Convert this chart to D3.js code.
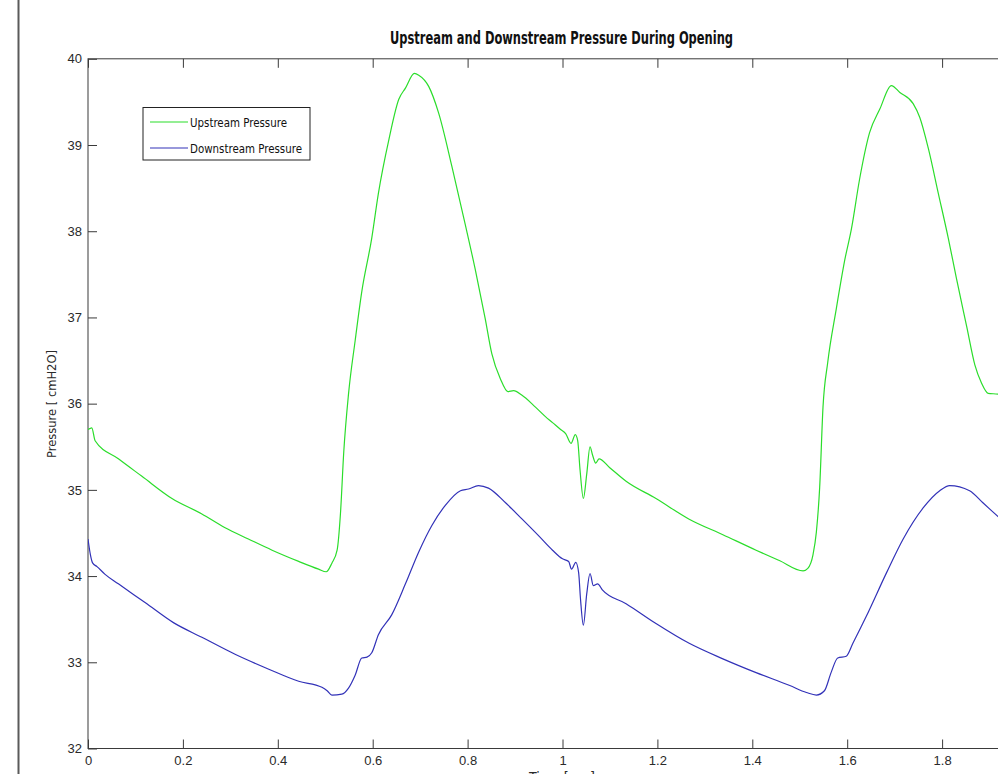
<!DOCTYPE html>
<html>
<head>
<meta charset="utf-8">
<script src="https://cdn.jsdelivr.net/npm/d3@7"></script>
<style>
  html, body { margin: 0; padding: 0; background: #fff; overflow: hidden; }
  svg { display: block; }
</style>
</head>
<body>
<svg id="chart" width="998" height="774"></svg>
<script>
// ---- Data ----
const titleText = "Upstream and Downstream Pressure During Opening";
const xLabelText = "Time [sec]";
const yLabelText = "Pressure [ cmH2O]";
const seriesNames = ["Upstream Pressure", "Downstream Pressure"];
const seriesColors = ["#2bdd2b", "#3232b8"];

const xTickValues = [0, 0.2, 0.4, 0.6, 0.8, 1, 1.2, 1.4, 1.6, 1.8];
const xTickLabels = ["0", "0.2", "0.4", "0.6", "0.8", "1", "1.2", "1.4", "1.6", "1.8"];
const yTickValues = [32, 33, 34, 35, 36, 37, 38, 39, 40];
const yTickLabels = ["32", "33", "34", "35", "36", "37", "38", "39", "40"];

const upstreamTime = [0, 0.008, 0.015, 0.064, 0.113, 0.177, 0.240, 0.289, 0.338, 0.388, 0.444, 0.486, 0.502, 0.514, 0.525, 0.532, 0.539, 0.549, 0.563, 0.577, 0.598, 0.612, 0.634, 0.655, 0.669, 0.688, 0.697, 0.718, 0.739, 0.767, 0.795, 0.816, 0.837, 0.851, 0.869, 0.885, 0.897, 0.914, 0.943, 0.964, 0.979, 0.996, 1.007, 1.018, 1.027, 1.032, 1.037, 1.044, 1.051, 1.058, 1.063, 1.070, 1.077, 1.099, 1.134, 1.197, 1.267, 1.338, 1.408, 1.457, 1.507, 1.517, 1.528, 1.535, 1.542, 1.549, 1.559, 1.577, 1.595, 1.609, 1.626, 1.647, 1.669, 1.693, 1.711, 1.739, 1.753, 1.771, 1.792, 1.813, 1.830, 1.852, 1.869, 1.883, 1.897, 1.918, 1.960, 2.0];
const upstreamPressure = [35.70, 35.72, 35.57, 35.36, 35.16, 34.90, 34.72, 34.56, 34.43, 34.30, 34.17, 34.08, 34.05, 34.15, 34.30, 34.72, 35.44, 36.11, 36.73, 37.30, 37.92, 38.44, 39.06, 39.53, 39.66, 39.83, 39.81, 39.68, 39.37, 38.75, 38.08, 37.56, 36.99, 36.58, 36.29, 36.14, 36.15, 36.10, 35.96, 35.85, 35.78, 35.70, 35.65, 35.54, 35.64, 35.57, 35.23, 34.90, 35.18, 35.50, 35.41, 35.31, 35.36, 35.26, 35.10, 34.90, 34.66, 34.48, 34.30, 34.18, 34.06, 34.09, 34.25, 34.51, 35.03, 35.96, 36.48, 37.10, 37.67, 38.03, 38.60, 39.14, 39.42, 39.69, 39.61, 39.48, 39.32, 38.96, 38.44, 37.92, 37.46, 36.89, 36.45, 36.24, 36.12, 36.11, 35.98, 35.85];

const downstreamTime = [0, 0.005, 0.010, 0.019, 0.036, 0.064, 0.121, 0.180, 0.240, 0.311, 0.381, 0.444, 0.493, 0.504, 0.514, 0.535, 0.549, 0.563, 0.577, 0.588, 0.598, 0.612, 0.640, 0.669, 0.697, 0.725, 0.753, 0.785, 0.802, 0.823, 0.844, 0.880, 0.915, 0.951, 0.979, 1.000, 1.013, 1.019, 1.028, 1.034, 1.038, 1.044, 1.051, 1.058, 1.065, 1.074, 1.084, 1.134, 1.197, 1.267, 1.338, 1.408, 1.479, 1.514, 1.535, 1.552, 1.566, 1.580, 1.598, 1.612, 1.640, 1.683, 1.718, 1.760, 1.795, 1.816, 1.858, 1.886, 1.918, 1.960, 2.0];
const downstreamPressure = [34.43, 34.25, 34.15, 34.11, 34.02, 33.91, 33.69, 33.46, 33.29, 33.09, 32.92, 32.78, 32.71, 32.67, 32.62, 32.63, 32.70, 32.85, 33.05, 33.06, 33.11, 33.32, 33.55, 33.91, 34.28, 34.59, 34.82, 34.99, 35.01, 35.05, 35.02, 34.85, 34.66, 34.46, 34.30, 34.20, 34.17, 34.08, 34.16, 34.04, 33.73, 33.43, 33.79, 34.03, 33.89, 33.91, 33.84, 33.68, 33.45, 33.22, 33.04, 32.88, 32.73, 32.65, 32.62, 32.67, 32.88, 33.05, 33.07, 33.22, 33.53, 34.04, 34.43, 34.79, 34.99, 35.05, 34.99, 34.85, 34.69, 34.48, 34.28];

// ---- Layout ----
const plotLeft = 88, plotRight = 1037, plotTop = 58.8, plotBottom = 748.5;
const condensed = "'DejaVu Sans Condensed', 'Liberation Sans Narrow', 'DejaVu Sans', sans-serif";
const tickFont = "'Liberation Sans', Arial, sans-serif";

const svg = d3.select("#chart");
svg.append("rect").attr("width", 998).attr("height", 774).attr("fill", "#fff");

// figure window edge on the left
svg.append("line").attr("x1", 18.5).attr("x2", 18.5).attr("y1", 0).attr("y2", 774)
  .attr("stroke", "#5a5a5a").attr("stroke-width", 2);

const x = d3.scaleLinear().domain([0, 2]).range([plotLeft, plotRight]);
const y = d3.scaleLinear().domain([32, 40]).range([plotBottom, plotTop]);

const tickLen = 9;
const axisColor = "#3a3a3a";

function styleAxis(g) {
  g.select(".domain").remove();
  g.selectAll(".tick line").attr("stroke", axisColor).attr("stroke-width", 1);
  g.selectAll(".tick text").attr("fill", "#2a2a2a")
    .style("font-family", tickFont).style("font-size", "13px");
}

// bottom axis (ticks inward)
const gx = svg.append("g").attr("transform", `translate(0,${plotBottom})`)
  .call(d3.axisBottom(x).tickValues(xTickValues)
    .tickFormat((d, i) => xTickLabels[i]).tickSizeInner(-tickLen).tickSizeOuter(0).tickPadding(5));
styleAxis(gx);
gx.selectAll(".tick text").attr("dy", "0.85em").attr("y", 5);

// top axis mirror ticks, no labels
const gxt = svg.append("g").attr("transform", `translate(0,${plotTop})`)
  .call(d3.axisTop(x).tickValues(xTickValues).tickFormat("").tickSizeInner(-tickLen).tickSizeOuter(0));
styleAxis(gxt);

// left axis
const gy = svg.append("g").attr("transform", `translate(${plotLeft},0)`)
  .call(d3.axisLeft(y).tickValues(yTickValues)
    .tickFormat((d, i) => yTickLabels[i]).tickSizeInner(-tickLen).tickSizeOuter(0).tickPadding(6));
styleAxis(gy);

// axes box
svg.append("rect").attr("x", plotLeft).attr("y", plotTop)
  .attr("width", plotRight - plotLeft).attr("height", plotBottom - plotTop)
  .attr("fill", "none").attr("stroke", axisColor).attr("stroke-width", 1);

// clip
svg.append("clipPath").attr("id", "plotclip").append("rect")
  .attr("x", plotLeft).attr("y", plotTop).attr("width", plotRight - plotLeft).attr("height", plotBottom - plotTop);

const line = d3.line().x(d => x(d[0])).y(d => y(d[1])).curve(d3.curveMonotoneX);

const series = [
  { name: seriesNames[0], color: seriesColors[0], pts: upstreamTime.map((t, i) => [t, upstreamPressure[i]]) },
  { name: seriesNames[1], color: seriesColors[1], pts: downstreamTime.map((t, i) => [t, downstreamPressure[i]]) }
];

const linesG = svg.append("g").attr("clip-path", "url(#plotclip)");
series.forEach(s => {
  linesG.append("path").attr("d", line(s.pts)).attr("fill", "none")
    .attr("stroke", s.color).attr("stroke-width", 1.2).attr("stroke-linejoin", "round");
});

// title
svg.append("text").attr("x", 561.5).attr("y", 44).attr("text-anchor", "middle")
  .attr("textLength", 343).attr("lengthAdjust", "spacingAndGlyphs")
  .style("font-family", condensed).style("font-size", "17px").style("font-weight", "bold")
  .attr("fill", "#111").text(titleText);

// y label
svg.append("text").attr("transform", "translate(56,404) rotate(-90)").attr("text-anchor", "middle")
  .attr("textLength", 108).attr("lengthAdjust", "spacingAndGlyphs")
  .style("font-family", condensed).style("font-size", "13px")
  .attr("fill", "#2a2a2a").text(yLabelText);

// x label (its top just shows at the bottom edge, as in the reference)
svg.append("text").attr("x", 562).attr("y", 782).attr("text-anchor", "middle")
  .attr("textLength", 66).attr("lengthAdjust", "spacingAndGlyphs")
  .style("font-family", condensed).style("font-size", "14px")
  .attr("fill", "#2a2a2a").text(xLabelText);

// legend
const lg = svg.append("g");
lg.append("rect").attr("x", 143).attr("y", 107.5).attr("width", 167).attr("height", 52.5)
  .attr("fill", "#fff").attr("stroke", "#222").attr("stroke-width", 1);
const legendRows = [122, 148];
const legendTextLen = [97, 112];
series.forEach((s, i) => {
  lg.append("line").attr("x1", 150).attr("x2", 188).attr("y1", legendRows[i]).attr("y2", legendRows[i])
    .attr("stroke", s.color).attr("stroke-width", 1.2);
  lg.append("text").attr("x", 190).attr("y", legendRows[i]).attr("dy", "0.35em")
    .attr("textLength", legendTextLen[i]).attr("lengthAdjust", "spacingAndGlyphs")
    .style("font-family", condensed).style("font-size", "13px")
    .attr("fill", "#111").text(s.name);
});
</script>
</body>
</html>
